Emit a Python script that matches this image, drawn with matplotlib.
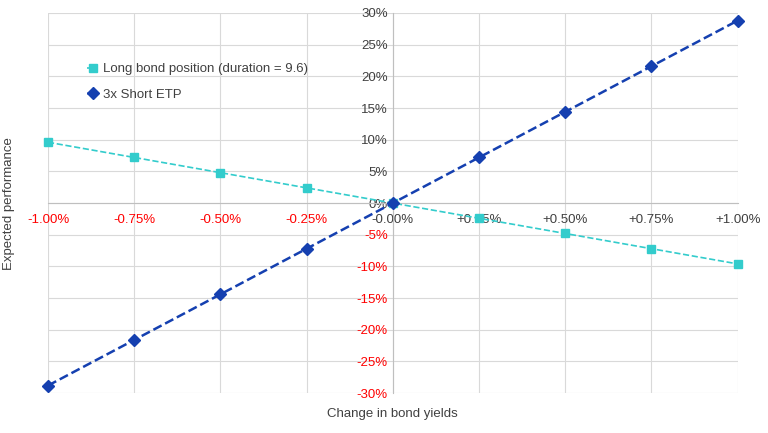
import matplotlib
matplotlib.use("Agg")
import matplotlib.pyplot as plt
from matplotlib.ticker import FuncFormatter

x = [-1.0, -0.75, -0.5, -0.25, 0.0, 0.25, 0.5, 0.75, 1.0]
long_bond = [9.6, 7.2, 4.8, 2.4, 0.0, -2.4, -4.8, -7.2, -9.6]
short_etp = [-28.8, -21.6, -14.4, -7.2, 0.0, 7.2, 14.4, 21.6, 28.8]
xlabels = ["-1.00%", "-0.75%", "-0.50%", "-0.25%", "-0.00%", "+0.25%", "+0.50%", "+0.75%", "+1.00%"]
yticks = list(range(-30, 31, 5))

plt.rcParams['font.family'] = ['Liberation Sans', 'DejaVu Sans']
fig = plt.figure(figsize=(7.68, 4.33), dpi=100)
ax = fig.add_axes([0.0625, 0.092, 0.898, 0.878])
ax.plot(x, long_bond, '--', color='#33CCCC', marker='s', markersize=6, lw=1.2,
        label='Long bond position (duration = 9.6)', clip_on=False, zorder=3)
ax.plot(x, short_etp, '--', color='#1540B0', marker='D', markersize=6, lw=1.8,
        label='3x Short ETP', clip_on=False, zorder=4)
ax.set_xlim(-1, 1)
ax.set_ylim(-30, 30)
ax.set_xticks(x)
ax.set_xticklabels(xlabels)
ax.set_yticks(yticks)
ax.yaxis.set_major_formatter(FuncFormatter(lambda v, p: f"{int(v)}%"))
ax.grid(True, color='#D9D9D9', lw=0.8)
ax.set_axisbelow(True)
for s in ['top', 'right']:
    ax.spines[s].set_visible(False)
ax.spines['left'].set_position('zero')
ax.spines['bottom'].set_position('zero')
ax.spines['left'].set_color('#BFBFBF')
ax.spines['bottom'].set_color('#BFBFBF')
ax.tick_params(length=0, labelsize=9.5, colors='#404040')
ax.tick_params(axis='x', pad=8)
for lab, v in zip(ax.get_xticklabels(), x):
    lab.set_color('red' if v < 0 else '#404040')
for lab, v in zip(ax.get_yticklabels(), yticks):
    lab.set_color('red' if v < 0 else '#404040')
ax.legend(loc='upper left', bbox_to_anchor=(0.04, 0.9), frameon=False, fontsize=9.5,
          handlelength=0.8, handletextpad=0.4, labelspacing=1.0, labelcolor='#404040')
fig.text(0.012, 0.53, 'Expected performance', rotation=90, va='center', ha='center',
         fontsize=9.5, color='#404040')
fig.text(0.511, 0.045, 'Change in bond yields', ha='center', va='center',
         fontsize=9.5, color='#404040')
fig.savefig('out.png', dpi=100)
